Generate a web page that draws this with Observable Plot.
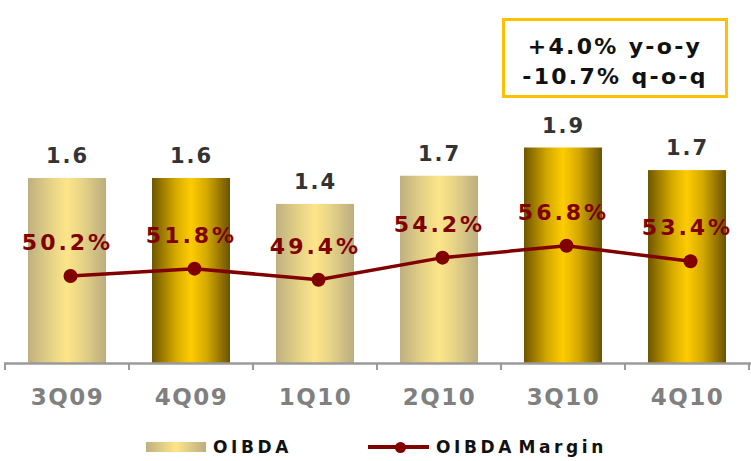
<!DOCTYPE html>
<html><head><meta charset="utf-8">
<script src="https://cdn.jsdelivr.net/npm/d3@7"></script>
<script src="https://cdn.jsdelivr.net/npm/@observablehq/plot@0.6"></script>
<style>
html,body{margin:0;padding:0;background:#fff;}
#wrap{position:relative;width:751px;height:461px;overflow:hidden;font-family:"DejaVu Sans",sans-serif;}
#chart svg{display:block;background:#fff;}
#chart svg text{font-family:"DejaVu Sans",sans-serif;font-weight:bold;}
#chart [aria-label="x-axis tick label"] text{fill:#808080;font-size:23px;letter-spacing:1.5px;}
#chart .vlab text{letter-spacing:2px;}
#chart .plab text{letter-spacing:3px;}
#note{position:absolute;left:502px;top:18px;width:220px;height:63px;padding-top:11px;border:3px solid #FFC000;background:#fff;
  text-align:center;font:bold 22px/30px "DejaVu Sans",sans-serif;letter-spacing:2.3px;color:#111;}
.leg{position:absolute;font:bold 17px/20px "DejaVu Sans",sans-serif;letter-spacing:3.6px;word-spacing:-6px;color:#111;top:437px;white-space:nowrap;}
</style></head>
<body><div id="wrap"><div id="chart"></div><div id="note"></div><div id="legend"></div></div>
<script>
const quarters = ["3Q09","4Q09","1Q10","2Q10","3Q10","4Q10"];
const oibda = [1.64, 1.64, 1.41, 1.66, 1.91, 1.71];
const margin = [50.2, 51.8, 49.4, 54.2, 56.8, 53.4];
const highlighted = ["4Q09","3Q10","4Q10"];
const noteLines = ["+4.0% y-o-y", "-10.7% q-o-q"];
const seriesNames = ["OIBDA", "OIBDA Margin"];

const rows = quarters.map((q, i) => ({q, v: oibda[i], m: margin[i], hl: highlighted.includes(q)}));
// secondary (margin %) axis mapped onto the primary axis units
const m2y = d3.scaleLinear().domain([0, 100]).range([-1.2676, 2.8024]);

const chart = Plot.plot({
  width: 751, height: 425,
  marginLeft: 4, marginRight: 0, marginTop: 2, marginBottom: 62,
  x: {domain: quarters, paddingInner: 0.37, paddingOuter: 0.185, label: null},
  y: {domain: [0, 3.2], axis: null},
  marks: [
    Plot.barY(rows.filter(d => !d.hl), {x: "q", y: "v", fill: "url(#gLight)"}),
    Plot.barY(rows.filter(d => d.hl), {x: "q", y: "v", fill: "url(#gDark)"}),
    Plot.ruleY([0], {stroke: "#9a9a9a", strokeWidth: 2.5}),
    Plot.axisX({tickSize: 0, tickPadding: 25, fontSize: 23, fontWeight: "bold", fill: "#808080", label: null}),
    Plot.text(rows, {x: "q", y: "v", text: d => d.v.toFixed(1), dy: -22, fontSize: 21, fontWeight: "bold", fill: "#333", className: "vlab"}),
    Plot.line(rows, {x: "q", y: d => m2y(d.m), stroke: "#800000", strokeWidth: 3.5, dx: 3}),
    Plot.dot(rows, {x: "q", y: d => m2y(d.m), r: 7, fill: "#800000", stroke: "none", dx: 3}),
    Plot.text(rows, {x: "q", y: d => m2y(d.m), text: d => d.m.toFixed(1) + "%", dy: -33, fontSize: 22, fontWeight: "bold", fill: "#800000", className: "plab"})
  ]
});

// gradients
const svg = d3.select(chart);
const defs = svg.insert("defs", ":first-child");
function grad(id, stops) {
  const g = defs.append("linearGradient").attr("id", id).attr("x1", 0).attr("x2", 1).attr("y1", 0).attr("y2", 0);
  stops.forEach(([o, c]) => g.append("stop").attr("offset", o).attr("stop-color", c));
}
grad("gLight", [[0, "#BFB080"], [0.3, "#E6D386"], [0.5, "#FEE58A"], [0.7, "#E6D386"], [1, "#BBAD80"]]);
grad("gDark", [[0, "#6E5600"], [0.3, "#D4A900"], [0.5, "#FFCC00"], [0.7, "#D4A900"], [1, "#6B5300"]]);

// category boundary ticks from the x scale
const xs = chart.scale("x");
const ys = chart.scale("y");
const step = xs.step ?? (xs.apply(quarters[1]) - xs.apply(quarters[0]));
const bw = xs.bandwidth;
const y0 = ys.apply(0);
const bounds = quarters.map(q => xs.apply(q) - (step - bw) / 2);
bounds.push(xs.apply(quarters[quarters.length - 1]) + bw + (step - bw) / 2);
svg.append("g").selectAll("line").data(bounds).join("line")
  .attr("x1", d => d).attr("x2", d => d).attr("y1", y0).attr("y2", y0 + 7)
  .attr("stroke", "#9a9a9a").attr("stroke-width", 2);

document.getElementById("chart").appendChild(chart);

// annotation box
document.getElementById("note").innerHTML = noteLines.map(t => `<div>${t}</div>`).join("");

// legend
document.getElementById("legend").innerHTML = `
  <div style="position:absolute;left:146px;top:442px;width:60px;height:10px;background:linear-gradient(to right,#BFB080,#FEE58A 50%,#BBAD80);"></div>
  <div class="leg" style="left:213px;">${seriesNames[0]}</div>
  <div style="position:absolute;left:368px;top:445px;width:61px;height:4px;background:#800000;"></div>
  <div style="position:absolute;left:394.5px;top:441.5px;width:11px;height:11px;border-radius:50%;background:#800000;"></div>
  <div class="leg" style="left:436px;">${seriesNames[1]}</div>`;
</script></body></html>
